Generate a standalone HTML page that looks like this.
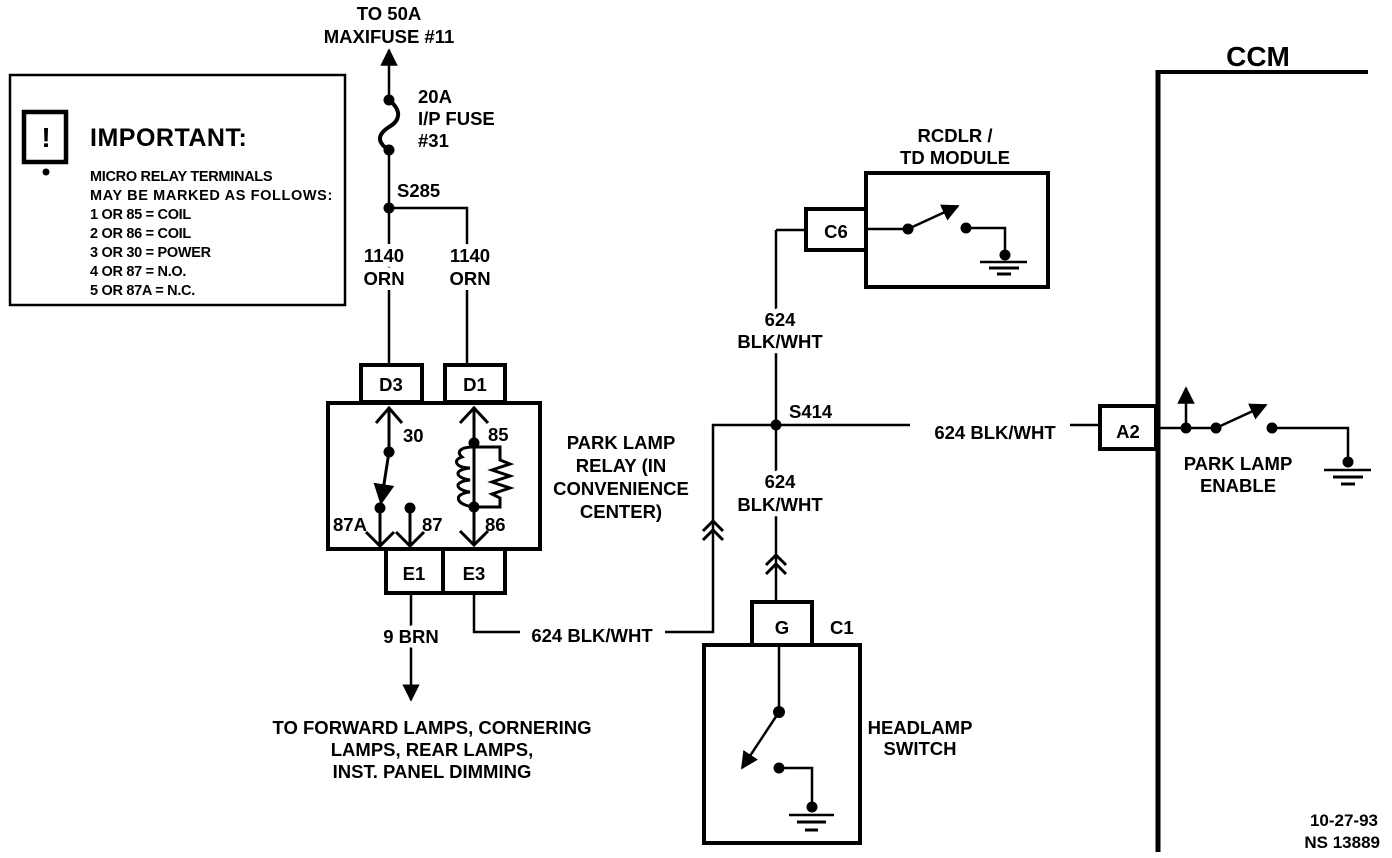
<!DOCTYPE html>
<html><head><meta charset="utf-8"><style>
html,body{margin:0;padding:0;background:#fff;}
svg{display:block;}
text{font-family:"Liberation Sans",sans-serif;font-weight:bold;fill:#000;}
.k{stroke:#fff;stroke-width:10px;paint-order:stroke;stroke-linejoin:round;}
</style></head><body>
<svg width="1392" height="858" viewBox="0 0 1392 858" xmlns="http://www.w3.org/2000/svg">
<defs>
<marker id="ah" viewBox="0 0 10 10" refX="9" refY="5" markerWidth="7" markerHeight="7" orient="auto-start-reverse"><path d="M0,0 L10,5 L0,10 z" fill="#000"/></marker>
</defs>
<g stroke="#000" fill="none" stroke-width="2.5">
<rect x="10" y="75" width="335" height="230"/>
<rect x="24" y="112" width="42" height="50" stroke-width="4.5"/>
</g>
<text x="46" y="147" font-size="28" text-anchor="middle">!</text>
<circle cx="46" cy="172" r="3.5"/>
<text x="90" y="146" font-size="25" letter-spacing="0.5">IMPORTANT:</text>
<g font-size="14.5" letter-spacing="-0.3">
<text x="90" y="181">MICRO RELAY TERMINALS</text>
<text x="90" y="200" textLength="242">MAY BE MARKED AS FOLLOWS:</text>
<text x="90" y="219">1 OR 85  =  COIL</text>
<text x="90" y="238">2 OR 86  =  COIL</text>
<text x="90" y="257">3 OR 30  =  POWER</text>
<text x="90" y="276">4 OR 87  =  N.O.</text>
<text x="90" y="295">5 OR 87A  =  N.C.</text>
</g>

<g font-size="18.5">
<text x="389" y="20" text-anchor="middle">TO 50A</text>
<text x="389" y="43" text-anchor="middle">MAXIFUSE #11</text>
<g stroke="#000" fill="none" stroke-width="2.5">
<line x1="389" y1="100" x2="389" y2="50" marker-end="url(#ah)"/>
<path d="M389,100 C404,112 398,122 389,127 C378,134 376,142 389,150" stroke-width="4"/>
<line x1="389" y1="150" x2="389" y2="365"/>
<polyline points="389,208 467,208 467,365"/>
</g>
<circle cx="389" cy="100" r="5.5"/><circle cx="389" cy="150" r="5.5"/><circle cx="389" cy="208" r="5.5"/>
<text x="418" y="103">20A</text>
<text x="418" y="125">I/P FUSE</text>
<text x="418" y="147">#31</text>
<text x="397" y="197">S285</text>
<text class="k" x="384" y="262" text-anchor="middle">1140</text>
<text class="k" x="384" y="285" text-anchor="middle">ORN</text>
<text class="k" x="470" y="262" text-anchor="middle">1140</text>
<text class="k" x="470" y="285" text-anchor="middle">ORN</text>

<g stroke="#000" fill="none" stroke-width="4">
<rect x="361" y="365" width="61" height="37"/>
<rect x="445" y="365" width="60" height="37"/>
<rect x="328" y="403" width="212" height="146"/>
<rect x="386" y="549" width="57" height="44"/>
<rect x="443" y="549" width="62" height="44"/>
</g>
<text x="391" y="391" text-anchor="middle">D3</text>
<text x="475" y="391" text-anchor="middle">D1</text>
<text x="414" y="580" text-anchor="middle">E1</text>
<text x="474" y="580" text-anchor="middle">E3</text>
<g stroke="#000" fill="none" stroke-width="3">
<line x1="389" y1="407" x2="389" y2="452"/>
<polyline points="376,423 389,408 402,423"/>
<line x1="389" y1="452" x2="381" y2="503" marker-end="url(#ah)"/>
<line x1="380" y1="510" x2="380" y2="546"/>
<polyline points="366,532 380,546 394,532"/>
<line x1="410" y1="510" x2="410" y2="546"/>
<polyline points="396,532 410,546 424,532"/>
<line x1="474" y1="407" x2="474" y2="545"/>
<polyline points="460,423 474,408 488,423"/>
<polyline points="460,531 474,545 488,531"/>
<path d="M474,447 L500,447 L500,460 L510,464 L492,470 L510,476 L492,482 L510,488 L492,494 L500,498 L500,507 L474,507"/>
<path d="M474,447 C460,447 456,452 462,457 C452,460 456,468 470,468 C452,470 456,478 470,480 C452,482 456,490 470,492 C452,494 456,505 474,507"/>
</g>
<circle cx="389" cy="452" r="5.5"/><circle cx="380" cy="508" r="5.5"/><circle cx="410" cy="508" r="5.5"/>
<circle cx="474" cy="443" r="5.5"/><circle cx="474" cy="507" r="5.5"/>
<text x="403" y="442">30</text>
<text x="488" y="441">85</text>
<text x="333" y="531">87A</text>
<text x="422" y="531">87</text>
<text x="485" y="531">86</text>
<text x="621" y="449" text-anchor="middle">PARK LAMP</text>
<text x="621" y="472" text-anchor="middle">RELAY (IN</text>
<text x="621" y="495" text-anchor="middle">CONVENIENCE</text>
<text x="621" y="518" text-anchor="middle">CENTER)</text>

<g stroke="#000" fill="none" stroke-width="2.5">
<line x1="411" y1="593" x2="411" y2="700" marker-end="url(#ah)"/>
<polyline points="474,593 474,632 520,632"/>
<polyline points="665,632 713,632 713,425 910,425"/>
<line x1="1070" y1="425" x2="1100" y2="425"/>
<polyline points="703,531 713,521 723,531" stroke-width="3"/>
<polyline points="703,540 713,530 723,540" stroke-width="3"/>
<line x1="776" y1="230" x2="776" y2="602"/>
<polyline points="776,230 806,230"/>
<polyline points="766,565 776,555 786,565" stroke-width="3"/>
<polyline points="766,574 776,564 786,574" stroke-width="3"/>
</g>
<text class="k" x="411" y="643" text-anchor="middle">9 BRN</text>
<text x="432" y="734" text-anchor="middle">TO FORWARD LAMPS, CORNERING</text>
<text x="432" y="756" text-anchor="middle">LAMPS, REAR LAMPS,</text>
<text x="432" y="778" text-anchor="middle">INST. PANEL DIMMING</text>
<text x="592" y="642" text-anchor="middle">624 BLK/WHT</text>
<circle cx="776" cy="425" r="5.5"/>
<text x="789" y="418">S414</text>
<text class="k" x="780" y="326" text-anchor="middle">624</text>
<text class="k" x="780" y="348" text-anchor="middle">BLK/WHT</text>
<text class="k" x="780" y="488" text-anchor="middle">624</text>
<text class="k" x="780" y="511" text-anchor="middle">BLK/WHT</text>
<text x="995" y="439" text-anchor="middle">624 BLK/WHT</text>

<text x="955" y="142" text-anchor="middle">RCDLR /</text>
<text x="955" y="164" text-anchor="middle">TD MODULE</text>
<g stroke="#000" fill="none" stroke-width="4">
<rect x="866" y="173" width="182" height="114"/>
<rect x="806" y="209" width="60" height="41"/>
</g>
<text x="836" y="238" text-anchor="middle">C6</text>
<g stroke="#000" fill="none" stroke-width="2.5">
<line x1="866" y1="229" x2="908" y2="229"/>
<line x1="908" y1="229" x2="958" y2="206" marker-end="url(#ah)"/>
<polyline points="966,228 1005,228 1005,255"/>
<line x1="980" y1="262" x2="1027" y2="262"/>
<line x1="989" y1="268" x2="1019" y2="268" stroke-width="3"/>
<line x1="997" y1="274" x2="1011" y2="274" stroke-width="3"/>
</g>
<circle cx="908" cy="229" r="5.5"/><circle cx="966" cy="228" r="5.5"/><circle cx="1005" cy="255" r="5.5"/>

<g stroke="#000" fill="none" stroke-width="4">
<rect x="752" y="602" width="60" height="43"/>
<rect x="704" y="645" width="156" height="198"/>
</g>
<text x="782" y="634" text-anchor="middle">G</text>
<text x="830" y="634">C1</text>
<text x="920" y="734" text-anchor="middle">HEADLAMP</text>
<text x="920" y="755" text-anchor="middle">SWITCH</text>
<g stroke="#000" fill="none" stroke-width="2.5">
<line x1="779" y1="645" x2="779" y2="712"/>
<line x1="779" y1="712" x2="742" y2="768" marker-end="url(#ah)"/>
<polyline points="779,768 812,768 812,805"/>
<line x1="789" y1="815" x2="834" y2="815"/>
<line x1="797" y1="822" x2="826" y2="822" stroke-width="3"/>
<line x1="805" y1="830" x2="818" y2="830" stroke-width="3"/>
</g>
<circle cx="779" cy="712" r="6"/><circle cx="779" cy="768" r="5.5"/><circle cx="812" cy="807" r="5.5"/>

<text x="1258" y="66" font-size="28" text-anchor="middle">CCM</text>
<g stroke="#000" fill="none" stroke-width="4">
<line x1="1158" y1="72" x2="1368" y2="72"/>
<line x1="1158" y1="70" x2="1158" y2="852" stroke-width="5"/>
<rect x="1100" y="406" width="56" height="43"/>
</g>
<text x="1128" y="438" text-anchor="middle">A2</text>
<g stroke="#000" fill="none" stroke-width="2.5">
<line x1="1158" y1="428" x2="1216" y2="428"/>
<line x1="1186" y1="428" x2="1186" y2="388" marker-end="url(#ah)"/>
<line x1="1216" y1="428" x2="1266" y2="405" marker-end="url(#ah)"/>
<polyline points="1272,428 1348,428 1348,462"/>
<line x1="1324" y1="470" x2="1371" y2="470"/>
<line x1="1333" y1="477" x2="1363" y2="477" stroke-width="3"/>
<line x1="1341" y1="484" x2="1355" y2="484" stroke-width="3"/>
</g>
<circle cx="1186" cy="428" r="5.5"/><circle cx="1216" cy="428" r="5.5"/><circle cx="1272" cy="428" r="5.5"/><circle cx="1348" cy="462" r="5.5"/>
<text x="1238" y="470" text-anchor="middle">PARK LAMP</text>
<text x="1238" y="492" text-anchor="middle">ENABLE</text>
<text x="1378" y="826" font-size="17" text-anchor="end">10-27-93</text>
<text x="1380" y="848" font-size="17" text-anchor="end">NS 13889</text>
</g>
</svg>
</body></html>
